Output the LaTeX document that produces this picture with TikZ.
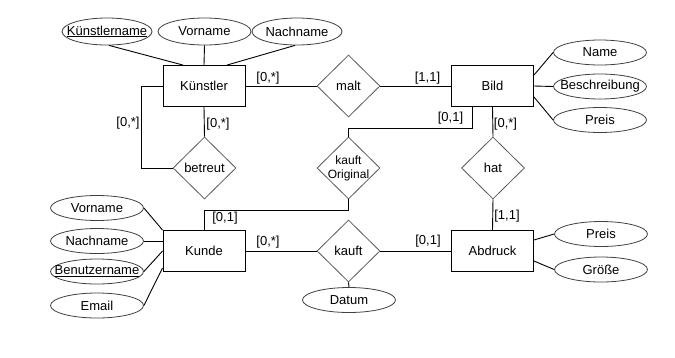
\documentclass[tikz,border=0pt]{standalone}
\usepackage{fontspec}
\setmainfont{Liberation Sans}
\usetikzlibrary{shapes.geometric,calc}
\begin{document}
\begin{tikzpicture}[x=1pt,y=-1pt,
  every node/.style={font=\fontsize{13}{15}\selectfont},
  entity/.style={draw=black,line width=0.9pt,minimum width=82pt,minimum height=41pt,inner sep=0pt},
  attr/.style={ellipse,draw=black!75,line width=0.8pt,minimum width=93pt,minimum height=25pt,inner sep=0pt,label={center:#1}},
  rel/.style={diamond,draw=black!65,line width=0.8pt,minimum width=63pt,minimum height=62pt,inner sep=0pt,aspect=1,label={center:#1}},
  card/.style={inner sep=0pt,font=\fontsize{13}{15}\selectfont},
  conn/.style={draw=black,line width=0.9pt}]
\useasboundingbox (0,0) rectangle (675,357);
% entities
\node[entity] (k) at (204,86) {Künstler};
\node[entity] (bild) at (492.5,86) {Bild};
\node[entity] (kunde) at (204,251) {Kunde};
\node[entity] (abd) at (492.5,251) {Abdruck};
% relationships
\node[rel={malt}] (malt) at (348.5,86) {};
\node[rel={betreut}] (bet) at (204.5,168) {};
\node[rel={\parbox{50pt}{\centering\fontsize{12}{14}\selectfont kauft\\Original}}] (ko) at (348.5,168) {};
\node[rel={hat}] (hat) at (493,168) {};
\node[rel={kauft}] (kauft) at (348.5,251) {};
% attributes Künstler
\node[attr={\underline{Künstlername}},minimum width=90pt,minimum height=27pt] (kn) at (107,31.5) {};
\node[attr={Vorname},minimum height=27pt] (kv) at (204.5,31.5) {};
\node[attr={Nachname},minimum width=90pt,minimum height=27pt] (knn) at (297,31.5) {};
% attributes Bild
\node[attr={Name}] (bname) at (600,52.5) {};
\node[attr={Beschreibung}] (bbes) at (600,86.5) {};
\node[attr={Preis}] (bpreis) at (600,120) {};
% attributes Kunde
\node[attr={Vorname}] (kuv) at (97,208) {};
\node[attr={Nachname}] (kun) at (97,241) {};
\node[attr={\underline{Benutzername}}] (kub) at (97,271.5) {};
\node[attr={Email}] (kue) at (97,305.5) {};
% attributes Abdruck
\node[attr={Preis}] (apreis) at (601,234) {};
\node[attr={Größe}] (agr) at (601,269.5) {};
% Datum
\node[attr={Datum}] (dat) at (349,300) {};
% attribute connectors
\draw[conn] (kn.-82) -- ($(k.north)+(-21,0)$);
\draw[conn] (kv.south) -- (k.north);
\draw[conn] (knn.-98) -- ($(k.north)+(23,0)$);
\draw[conn] (bname.west) -- ($(bild.north east)+(0,10)$);
\draw[conn] (bbes.west) -- (bild.east);
\draw[conn] (bpreis.west) -- ($(bild.south east)+(0,-10)$);
\draw[conn] (kuv.east) -- (kunde.north west);
\draw[conn] (kun.east) -- (kunde.west |- kun.east);
\draw[conn] (kub.east) -- (kunde.west);
\draw[conn] (kue.east) -- ($(kunde.south west)+(0,-4)$);
\draw[conn] (apreis.west) -- ($(abd.east)+(0,-11)$);
\draw[conn] (agr.west) -- ($(abd.east)+(0,10)$);
\draw[conn] (kauft.south) -- (dat.north);
% relationship connectors
\draw[conn] (k.east) -- (malt.west);
\draw[conn] (malt.east) -- (bild.west);
\draw[conn] (k.south) -- (bet.north);
\draw[conn] (k.west) -- ++(-21,0) |- (bet.west);
\draw[conn] ($(bild.south)+(-20.5,0)$) -- ++(0,21) -| (ko.north);
\draw[conn] (ko.south) -- ++(0,11) -| (kunde.north);
\draw[conn] (bild.south) -- (hat.north);
\draw[conn] (hat.south) -- (abd.north);
\draw[conn] (kunde.east) -- (kauft.west);
\draw[conn] (kauft.east) -- (abd.west);
% cardinalities
\node[card] (c1) at (268,78) {[0,*]};
\node[card] (c2) at (427.5,78) {[1,1]};
\node[card] (c3) at (218,124) {[0,*]};
\node[card] (c4) at (128,123) {[0,*]};
\node[card] (c5) at (450.5,118.5) {[0,1]};
\node[card] (c6) at (505.5,124) {[0,*]};
\node[card] (c7) at (225,218.5) {[0,1]};
\node[card] (c8) at (268,242) {[0,*]};
\node[card] (c9) at (428,241) {[0,1]};
\node[card] (c10) at (507,216) {[1,1]};
\end{tikzpicture}
\end{document}
